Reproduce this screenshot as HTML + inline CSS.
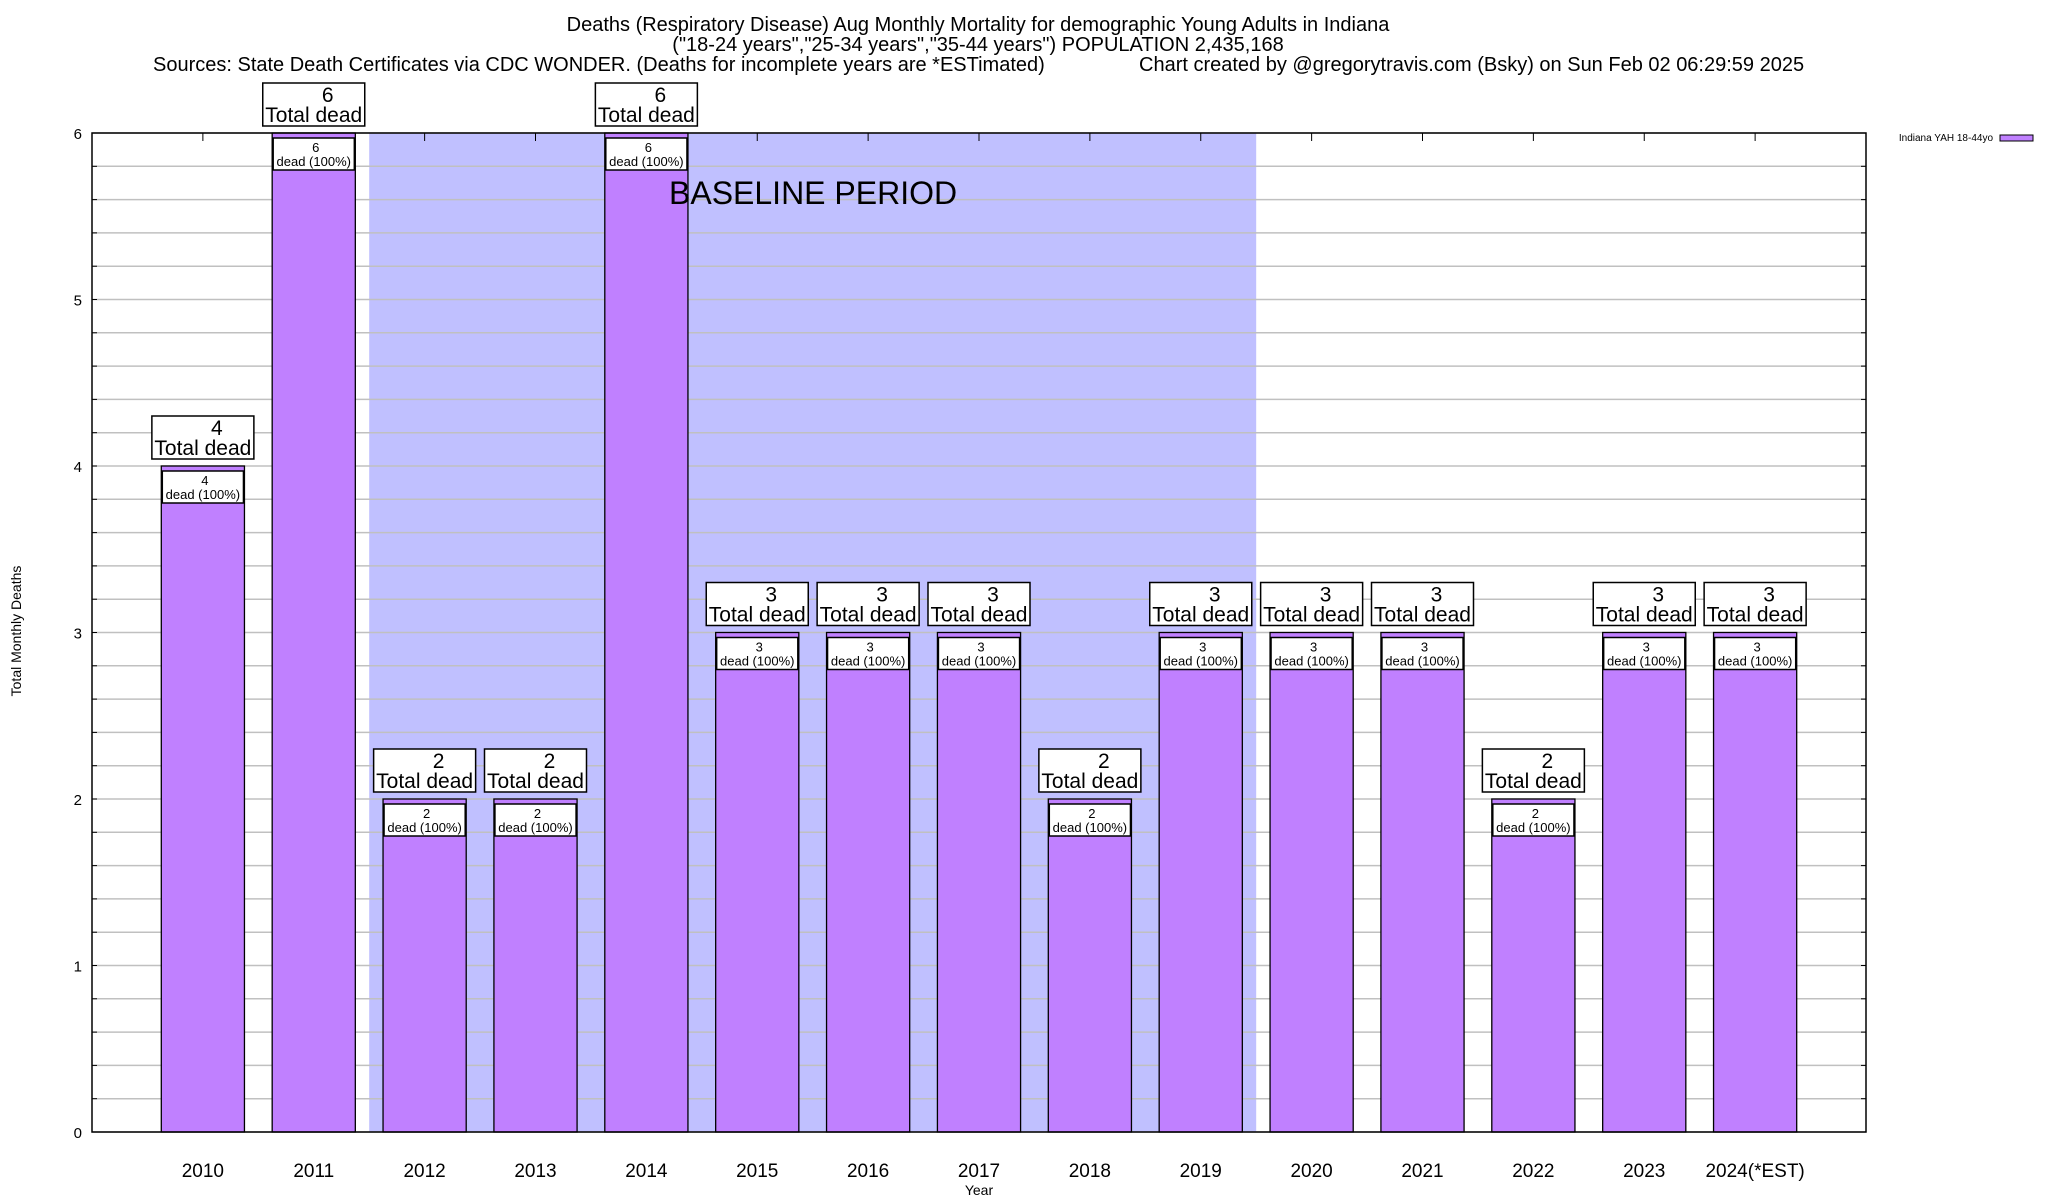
<!DOCTYPE html>
<html><head><meta charset="utf-8"><style>
html,body{margin:0;padding:0;background:#fff;}
svg{display:block;font-family:"Liberation Sans",Arial,sans-serif;}
</style></head><body>
<svg id="chart" width="2048" height="1200" viewBox="0 0 2048 1200">
<g font-size="20" fill="#000">
<text x="978" y="31" text-anchor="middle">Deaths (Respiratory Disease) Aug Monthly Mortality for demographic Young Adults in Indiana</text>
<text x="978" y="51" text-anchor="middle">("18-24 years","25-34 years","35-44 years") POPULATION 2,435,168</text>
<text x="153" y="71">Sources: State Death Certificates via CDC WONDER. (Deaths for incomplete years are *ESTimated)</text>
<text x="1139" y="71">Chart created by @gregorytravis.com (Bsky) on Sun Feb 02 06:29:59 2025</text>
</g>
<g id="plot"></g>
</svg>
<script>
const years = ["2010","2011","2012","2013","2014","2015","2016","2017","2018","2019","2020","2021","2022","2023","2024(*EST)"];
const deaths = [4,6,2,2,6,3,3,3,2,3,3,3,2,3,3];
const yTicks = [0,1,2,3,4,5,6];
const baselineStart = 1.5, baselineEnd = 9.5;

const L=92,R=1866,T=133,B=1132;
const xMin=-1,xMax=15,yMin=0,yMax=6;
const xs=v=>L+(v-xMin)/(xMax-xMin)*(R-L);
const ys=v=>B-(v-yMin)/(yMax-yMin)*(B-T);
const NS="http://www.w3.org/2000/svg";
const g=document.getElementById('plot');
function mk(tag,attrs,parent){const e=document.createElementNS(NS,tag);for(const k in attrs)e.setAttribute(k,attrs[k]);(parent||g).appendChild(e);return e;}

let sh=mk('rect',{x:xs(baselineStart),y:T,width:xs(baselineEnd)-xs(baselineStart),height:B-T,fill:'#c0c0ff'});


for(let v=yMin;v<=yMax+1e-9;v+=0.2){
  const y=ys(v);
  let gl=mk('line',{x1:L,x2:R,y1:y,y2:y,stroke:'#c0c0c0','stroke-width':1.5});
  
  
  let tk=mk('line',{x1:L,x2:L+5,y1:y,y2:y,stroke:'#000','stroke-width':1});
  
  
  let tk2=mk('line',{x1:R-5,x2:R,y1:y,y2:y,stroke:'#000','stroke-width':1});
  
  
}

yTicks.forEach(v=>{
  let t=mk('text',{x:82,y:ys(v)+6,'font-size':15,'text-anchor':'end'});
  t.textContent=v;
  
  
});

const bw=0.75;
years.forEach((yr,i)=>{
  const v=deaths[i];
  const x0=xs(i-bw/2),x1=xs(i+bw/2),yt=ys(v),cx=xs(i);
  let tt=mk('line',{x1:cx,x2:cx,y1:T,y2:T+8,stroke:'#000'});
  
  
  let b=mk('rect',{x:x0,y:yt,width:x1-x0,height:B-yt,fill:'#c080ff',stroke:'#000','stroke-width':1.3});
  
  
  let ib=mk('rect',{x:x0+1,y:yt+5,width:x1-x0-2,height:32,fill:'#fff',stroke:'#000','stroke-width':1.5});
  
  
  let it1=mk('text',{x:cx+2,y:yt+19,'font-size':13,'text-anchor':'middle'});
  it1.textContent=v;
  
  
  let it2=mk('text',{x:cx,y:yt+33,'font-size':13,'text-anchor':'middle'});
  it2.textContent='dead (100%)';
  
  
  let ob=mk('rect',{x:cx-51,y:yt-50,width:102,height:43,fill:'#fff',stroke:'#000','stroke-width':1.5});
  
  
  let o1=mk('text',{x:cx+14,y:yt-31,'font-size':21,'text-anchor':'middle'});
  o1.textContent=v;
  
  
  let o2=mk('text',{x:cx,y:yt-11,'font-size':21,'text-anchor':'middle'});
  o2.textContent='Total dead';
  
  
  let xl=mk('text',{x:cx,y:1177,'font-size':19,'text-anchor':'middle'});
  xl.textContent=yr;
  
  
});
let bt=mk('text',{x:669,y:204,'font-size':32,fill:'#000'});
bt.textContent='BASELINE PERIOD';


let fr=mk('rect',{x:L,y:T,width:R-L,height:B-T,fill:'none',stroke:'#000','stroke-width':1.5});


let xt=mk('text',{x:979,y:1195,'font-size':14,'text-anchor':'middle'});
xt.textContent='Year';


let yt=mk('text',{x:0,y:0,'font-size':14,'text-anchor':'middle',transform:'translate(21,631) rotate(-90)'});
yt.textContent='Total Monthly Deaths';


let lt=mk('text',{x:1993,y:141,'font-size':10,'text-anchor':'end'});
lt.textContent='Indiana YAH 18-44yo';


let ls=mk('rect',{x:2000,y:135,width:33,height:6,fill:'#c080ff',stroke:'#000','stroke-width':1});


</script>
</body></html>
